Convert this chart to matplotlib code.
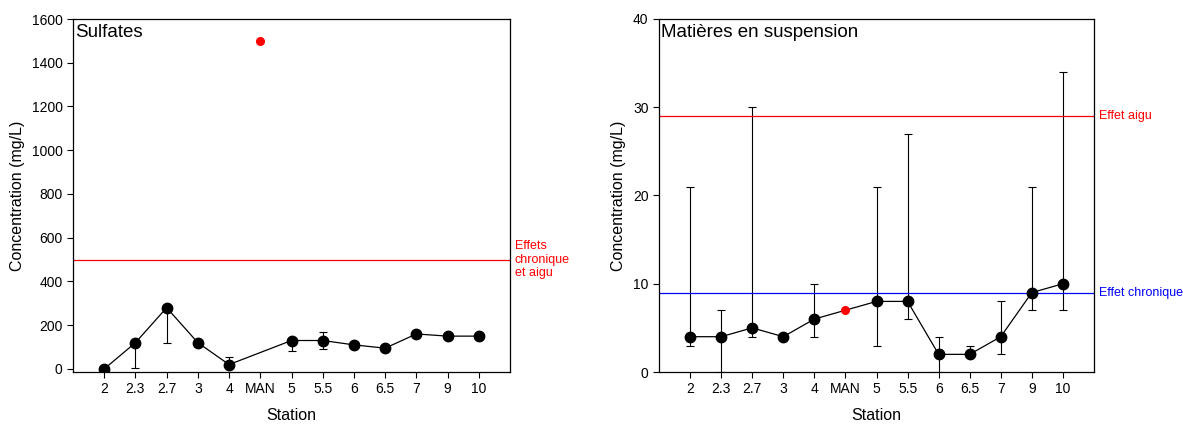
import numpy as np
import matplotlib.pyplot as plt

plt.rcParams['font.family'] = ['Liberation Sans', 'DejaVu Sans']

# stations (x categories)
stations = ['2', '2.3', '2.7', '3', '4', 'MAN', '5', '5.5', '6', '6.5', '7', '9', '10']

# Sulfates (mg/L) - MAN plotted apart in red
sulf = [0, 120, 280, 120, 20, np.nan, 130, 130, 110, 95, 160, 150, 150]
sulf_low = [0, 5, 120, 120, 20, np.nan, 80, 90, 110, 95, 160, 150, 150]
sulf_high = [0, 120, 285, 120, 55, np.nan, 130, 170, 110, 95, 160, 150, 150]
sulf_man = 1500
sulf_seuil = 500

# Matieres en suspension (mg/L)
mes = [4, 4, 5, 4, 6, 7, 8, 8, 2, 2, 4, 9, 10]
mes_low = [3, 0, 4, 4, 4, 7, 3, 6, 0, 2, 2, 7, 7]
mes_high = [21, 7, 30, 4, 10, 7, 21, 27, 4, 3, 8, 21, 34]
mes_aigu = 29
mes_chronique = 9

fig = plt.figure(figsize=(11.83, 4.28), dpi=100)
ax1 = fig.add_axes([73/1183, 56/428, 437/1183, 353/428])
ax2 = fig.add_axes([659/1183, 56/428, 435/1183, 353/428])

x = np.arange(len(stations))
iman = stations.index('MAN')


def panel(ax, y, lo, hi, titre):
    y = np.array(y, dtype=float)
    lo = np.array(lo, dtype=float)
    hi = np.array(hi, dtype=float)
    err = [y - lo, hi - y]
    ax.errorbar(x, y, yerr=err, fmt='none', ecolor='black', elinewidth=0.8,
                capsize=3.2, capthick=0.8, zorder=2)
    ok = ~np.isnan(y)
    ax.plot(x[ok], y[ok], color='black', linewidth=0.9, zorder=3)
    pts = ok & (x != iman)
    ax.plot(x[pts], y[pts], 'o', color='black', markersize=7.5, zorder=4)
    ax.set_xticks(x)
    ax.set_xticklabels(stations)
    ax.set_xlim(-1, 13)
    ax.set_xlabel('Station', fontsize=11.5, labelpad=8)
    ax.set_ylabel('Concentration (mg/L)', fontsize=11.5, labelpad=5)
    ax.tick_params(labelsize=10, direction='out', length=4, width=0.8)
    ax.text(0.005, 0.985, titre, transform=ax.transAxes, fontsize=13.5,
            va='top', ha='left')
    for s in ax.spines.values():
        s.set_linewidth(0.9)


# Sulfates
panel(ax1, sulf, sulf_low, sulf_high, 'Sulfates')
ax1.plot(iman, sulf_man, 'o', color='red', markeredgecolor='red', markersize=5.5, zorder=5)
ax1.axhline(sulf_seuil, color='red', linewidth=0.9)
ax1.set_ylim(-14, 1600)
ax1.set_yticks(np.arange(0, 1601, 200))
ax1.text(13.15, sulf_seuil, 'Effets\nchronique\net aigu', color='red', fontsize=9,
         va='center', ha='left', clip_on=False, linespacing=1.15)

# Matieres en suspension
panel(ax2, mes, mes_low, mes_high, 'Matières en suspension')
ax2.plot(iman, mes[iman], 'o', color='red', markeredgecolor='red', markersize=5.5, zorder=5)
ax2.axhline(mes_aigu, color='red', linewidth=0.9)
ax2.axhline(mes_chronique, color='blue', linewidth=0.9)
ax2.set_ylim(0, 40)
ax2.set_yticks(np.arange(0, 41, 10))
ax2.text(13.15, mes_aigu, 'Effet aigu', color='red', fontsize=9,
         va='center', ha='left', clip_on=False)
ax2.text(13.15, mes_chronique, 'Effet chronique', color='blue', fontsize=9,
         va='center', ha='left', clip_on=False)

plt.savefig('out.png', dpi=100)
